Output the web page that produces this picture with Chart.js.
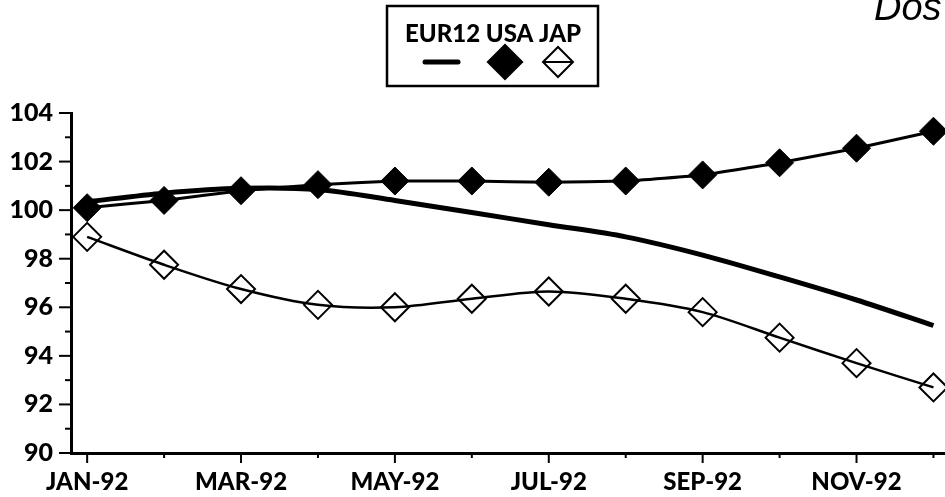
<!DOCTYPE html>
<html><head><meta charset="utf-8">
<script src="https://cdn.jsdelivr.net/npm/chart.js@4.4.0/dist/chart.umd.min.js"></script>
<style>html,body{margin:0;padding:0;background:#fff;overflow:hidden;} #wrap{position:relative;width:945px;height:497px;}</style>
</head><body><div id="wrap"><canvas id="c" width="945" height="497"></canvas></div>
<script>
const months = ['JAN-92','FEB-92','MAR-92','APR-92','MAY-92','JUN-92','JUL-92','AUG-92','SEP-92','OCT-92','NOV-92','DEC-92'];
const eur12 = [100.35,100.7,100.9,100.85,100.4,99.9,99.4,98.9,98.15,97.25,96.3,95.25];
const usa   = [100.1,100.4,100.8,101.05,101.2,101.2,101.15,101.2,101.45,101.95,102.55,103.25];
const jap   = [98.9,97.75,96.75,96.1,96.0,96.35,96.65,96.35,95.8,94.75,93.7,92.7];
const seriesNames = ['EUR12','USA','JAP'];
const yMin = 90, yMax = 104;
const cornerNote = 'Dos';

const FONT = 'Lato, "Liberation Sans", Arial, sans-serif';
const toXY = arr => arr.map((v,i)=>({x:i,y:v}));

const tickMarks = {
  id:'tickMarks',
  afterDraw(chart){
    const ctx = chart.ctx, xs = chart.scales.x, ys = chart.scales.y, ca = chart.chartArea;
    ctx.save();
    ctx.strokeStyle = '#000'; ctx.lineWidth = 2;
    for (let v = yMin; v <= yMax; v++) {
      const y = ys.getPixelForValue(v);
      const len = (v % 2 === 0) ? 12 : 6;
      ctx.beginPath(); ctx.moveTo(ca.left - len, y); ctx.lineTo(ca.left, y); ctx.stroke();
    }
    months.forEach((m,i)=>{
      const x = xs.getPixelForValue(i);
      const len = (i % 2 === 0) ? 10 : 5;
      ctx.beginPath(); ctx.moveTo(x, ca.bottom); ctx.lineTo(x, ca.bottom + len); ctx.stroke();
    });
    ctx.restore();
  }
};

const legendBox = {
  id:'legendBox',
  afterDraw(chart){
    const ctx = chart.ctx;
    ctx.save();
    ctx.strokeStyle = '#000'; ctx.lineWidth = 2.5;
    ctx.strokeRect(387, 6, 211, 80);
    ctx.fillStyle = '#000';
    ctx.font = '900 24px ' + FONT;
    ctx.textAlign = 'center'; ctx.textBaseline = 'middle';
    ctx.fillText(seriesNames.join(' '), 493, 34);
    const ds = chart.data.datasets;
    const cy = 62;
    ctx.lineWidth = ds[0].borderWidth; ctx.lineCap = 'round';
    ctx.beginPath(); ctx.moveTo(425, cy); ctx.lineTo(458, cy); ctx.stroke();
    ctx.fillStyle = ds[1].pointBackgroundColor; ctx.strokeStyle = ds[1].pointBorderColor;
    Chart.helpers.drawPoint(ctx, {pointStyle:'rectRot', radius:15, borderWidth:ds[1].pointBorderWidth, rotation:0}, 505, cy);
    ctx.strokeStyle = '#000'; ctx.lineWidth = 2; ctx.lineCap='butt';
    ctx.beginPath(); ctx.moveTo(543, cy); ctx.lineTo(573, cy); ctx.stroke();
    ctx.fillStyle = 'rgba(0,0,0,0)'; ctx.strokeStyle = ds[2].pointBorderColor;
    Chart.helpers.drawPoint(ctx, {pointStyle:'rectRot', radius:15, borderWidth:ds[2].pointBorderWidth, rotation:0}, 558, cy);
    ctx.fillStyle = '#000';
    ctx.font = 'italic 38px "Liberation Sans", Arial, sans-serif';
    ctx.textAlign = 'left'; ctx.textBaseline = 'alphabetic';
    ctx.fillText(cornerNote, 874, 20);
    ctx.restore();
  }
};

new Chart(document.getElementById('c'), {
  type:'line',
  data:{
    datasets:[
      {label:seriesNames[0], data:toXY(eur12), borderColor:'#000', borderWidth:5, pointRadius:0, tension:0.3, clip:false, borderCapStyle:'butt'},
      {label:seriesNames[1], data:toXY(usa), borderColor:'#000', borderWidth:3, pointStyle:'rectRot', pointRadius:14, pointBackgroundColor:'#000', pointBorderColor:'#000', pointBorderWidth:1, tension:0.1, clip:false},
      {label:seriesNames[2], data:toXY(jap), borderColor:'#000', borderWidth:2.5, pointStyle:'rectRot', pointRadius:14, pointBackgroundColor:'rgba(0,0,0,0)', pointBorderColor:'#000', pointBorderWidth:2, tension:0.3, clip:false}
    ]
  },
  options:{
    responsive:false, animation:false, devicePixelRatio:1,
    layout:{autoPadding:false, padding:{top:113, right:0, left:0, bottom:0}},
    plugins:{legend:{display:false}, tooltip:{enabled:false}},
    scales:{
      x:{type:'linear', min:-0.21, max:11.15,
         grid:{display:true, drawOnChartArea:false, drawTicks:false},
         border:{display:true, color:'#000', width:3},
         ticks:{stepSize:1, includeBounds:false, autoSkip:false, maxRotation:0, padding:15, color:'#000',
                font:{family:FONT, size:24, weight:'900'},
                callback:(v)=> (Number.isInteger(v) && v % 2 === 0 && months[v]) ? months[v] : ''},
         afterFit:(s)=>{ s.height = 44; s.paddingLeft = 0; s.paddingRight = 0; }
      },
      y:{min:yMin, max:yMax,
         grid:{display:true, drawOnChartArea:false, drawTicks:false},
         border:{display:true, color:'#000', width:3},
         ticks:{stepSize:1, autoSkip:false, padding:18, color:'#000',
                font:{family:FONT, size:25, weight:'900'},
                callback:(v)=> (v % 2 === 0) ? String(v) : ''},
         afterFit:(s)=>{ s.width = 71; s.paddingTop = 0; s.paddingBottom = 0; }
      }
    }
  },
  plugins:[tickMarks, legendBox]
});
</script></body></html>
